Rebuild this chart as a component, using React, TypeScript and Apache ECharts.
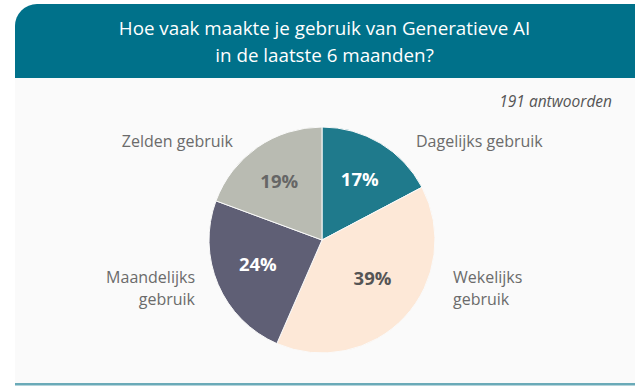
import React, { useEffect, useRef } from "react";
import * as echarts from "echarts";

const TITLE_LINES = ["Hoe vaak maakte je gebruik van Generatieve AI", "in de laatste 6 maanden?"];
const SUBTITLE = "191 antwoorden";
const CATEGORIES = ["Dagelijks gebruik", "Wekelijks\ngebruik", "Maandelijks\ngebruik", "Zelden gebruik"];
const COUNTS = [33, 75, 46, 37];
const SLICE_COLORS = ["#1f7a8c", "#fde8d7", "#5f5f75", "#b9bbb2"];
const PCT_COLORS = ["#ffffff", "#555555", "#ffffff", "#666666"];
const LABEL_ANCHORS = [
  { x: 416, y: 141, align: "left" },
  { x: 453, y: 288, align: "left" },
  { x: 195, y: 288, align: "right" },
  { x: 233, y: 141, align: "right" },
];
const PCT_SHIFT = [
  [0, 1],
  [-3, -12],
  [3, -5],
  [-1, 0],
];

const TOTAL = COUNTS.reduce((a, b) => a + b, 0);
const FONT = "'Open Sans'";

export default function App() {
  const ref = useRef<HTMLDivElement>(null);
  useEffect(() => {
    if (!ref.current) return;
    const chart = echarts.init(ref.current, null, { renderer: "svg" });
    const data = CATEGORIES.map((name, i) => ({
      name,
      value: COUNTS[i],
      itemStyle: { color: SLICE_COLORS[i] },
    }));
    const pctData = CATEGORIES.map((name, i) => ({
      name,
      value: COUNTS[i],
      label: { color: PCT_COLORS[i] },
    }));
    chart.setOption({
      animation: false,
      backgroundColor: "#ffffff",
      title: {
        text: TITLE_LINES.join("\n"),
        left: 324.5,
        top: 14,
        textAlign: "center",
        padding: 0,
        textStyle: {
          color: "#ffffff",
          fontSize: 18.8,
          fontWeight: "normal",
          lineHeight: 27,
          fontFamily: FONT,
        },
      },
      graphic: [
        {
          type: "rect",
          z: 0,
          shape: { x: 15, y: 78, width: 620, height: 305 },
          style: { fill: "#fafafa" },
        },
        {
          type: "rect",
          z: 0,
          shape: { x: 15, y: 4, width: 620, height: 74, r: [22, 0, 0, 0] },
          style: { fill: "#00718a" },
        },
        {
          type: "rect",
          z: 0,
          shape: { x: 15, y: 383, width: 620, height: 2.5 },
          style: { fill: "#6aaab8" },
        },
        {
          type: "text",
          z: 1,
          x: 612,
          y: 101,
          style: {
            text: SUBTITLE,
            align: "right",
            verticalAlign: "middle",
            fill: "#555555",
            font: "italic 15.5px 'Open Sans'",
          },
        },
      ],
      series: [
        {
          type: "pie",
          center: [322, 240],
          radius: [0, 113],
          startAngle: 90,
          clockwise: true,
          silent: true,
          itemStyle: { borderColor: "#fafafa", borderWidth: 1 },
          label: {
            show: true,
            position: "outside",
            color: "#6b6b6b",
            fontSize: 16,
            lineHeight: 22,
            fontFamily: FONT,
          },
          labelLine: { show: false },
          labelLayout: (p: any) => {
            const a = LABEL_ANCHORS[p.dataIndex];
            return { x: a.x, y: a.y, align: a.align, verticalAlign: "middle" };
          },
          data,
        },
        {
          type: "pie",
          center: [322, 240],
          radius: [0, 140],
          startAngle: 90,
          clockwise: true,
          silent: true,
          itemStyle: { color: "transparent", borderWidth: 0 },
          label: {
            show: true,
            position: "inside",
            fontSize: 18.5,
            fontWeight: "bold",
            fontFamily: FONT,
            formatter: (p: any) => Math.round((p.value / TOTAL) * 100) + "%",
          },
          labelLine: { show: false },
          labelLayout: (p: any) => {
            const s = PCT_SHIFT[p.dataIndex];
            return { dx: s[0], dy: s[1] };
          },
          data: pctData,
        },
      ],
    });
    return () => chart.dispose();
  }, []);
  return (
    <div
      ref={ref}
      style={{ position: "fixed", left: 0, top: 0, width: 640, height: 386 }}
    />
  );
}
